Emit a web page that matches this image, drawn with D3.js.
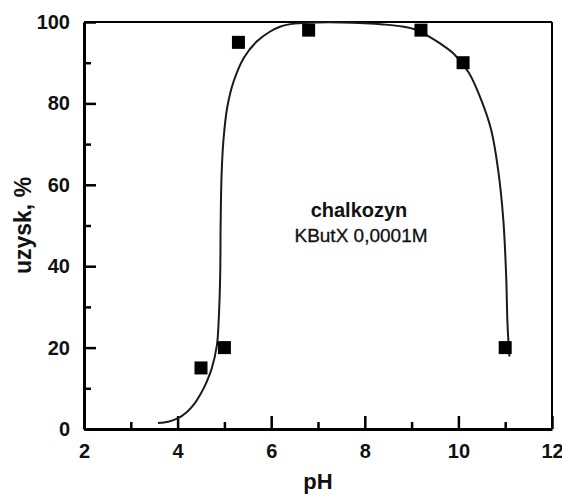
<!DOCTYPE html>
<html>
<head>
<meta charset="utf-8">
<script src="https://cdn.jsdelivr.net/npm/d3@7"></script>
<style>
    html, body { margin: 0; padding: 0; background: #fff; }
    svg text { font-family: "Liberation Sans", Arial, sans-serif; fill: #111; }
    .axis text { font-size: 20px; font-weight: bold; }
    .axis .domain { stroke: #000; stroke-width: 3; }
    .axis line { stroke: #000; stroke-width: 2.5; }
</style>
</head>
<body>
<div id="chart"></div>
<script>
// measured points
const phValues = [4.5, 5.0, 5.3, 6.8, 9.2, 10.1, 11.0];
const yieldValues = [15, 20, 95, 98, 98, 90, 20];

// fitted curve
const curvePh = [3.58, 3.8, 4.0, 4.2, 4.34, 4.5, 4.59, 4.73, 4.84, 4.88, 4.91, 4.92, 4.94, 4.98,
    5.06, 5.2, 5.42, 5.69, 5.97, 6.2, 6.5, 7.0, 7.5, 8.0, 8.4, 8.8, 9.1, 9.32, 9.6, 9.89,
    10.22, 10.5, 10.7, 10.85, 10.96, 11.02, 11.05, 11.09];
const curveYield = [1.5, 1.8, 2.6, 4.2, 5.9, 8.8, 10.8, 14.9, 20.6, 27.2, 37.8, 50.6, 62.5, 71.0,
    79.0, 85.5, 91.3, 95.2, 97.6, 98.9, 99.6, 99.9, 99.9, 99.7, 99.4, 98.9, 98.1, 96.8, 94.8, 92.3,
    87.6, 80.5, 73.5, 63.6, 51.4, 37.8, 25.6, 17.8];

const xTicks = [2, 4, 6, 8, 10, 12];
const xMinorTicks = [3, 5, 7, 9, 11];
const yTicks = [0, 20, 40, 60, 80, 100];
const yMinorTicks = [10, 30, 50, 70, 90];

const width = 562, height = 495;
const plot = { left: 84, right: 552, top: 22, bottom: 429 };

const svg = d3.select('#chart')
    .append('svg')
    .attr('width', width)
    .attr('height', height);

const x = d3.scaleLinear().domain([2, 12]).range([plot.left, plot.right]);
const y = d3.scaleLinear().domain([0, 100]).range([plot.bottom, plot.top]);

// top and right frame lines
svg.append('line')
    .attr('x1', plot.left).attr('x2', plot.right)
    .attr('y1', plot.top).attr('y2', plot.top)
    .attr('stroke', '#000').attr('stroke-width', 2);
svg.append('line')
    .attr('x1', plot.right).attr('x2', plot.right)
    .attr('y1', plot.top).attr('y2', plot.bottom)
    .attr('stroke', '#000').attr('stroke-width', 2);

// minor ticks first, majors on top
svg.append('g')
    .attr('class', 'axis')
    .attr('transform', `translate(0,${plot.bottom})`)
    .call(d3.axisBottom(x).tickValues(xMinorTicks).tickSize(-7).tickSizeOuter(0).tickFormat(''))
    .select('.domain').remove();
svg.append('g')
    .attr('class', 'axis')
    .attr('transform', `translate(${plot.left},0)`)
    .call(d3.axisLeft(y).tickValues(yMinorTicks).tickSize(-7).tickSizeOuter(0).tickFormat(''))
    .select('.domain').remove();

svg.append('g')
    .attr('class', 'axis')
    .attr('transform', `translate(0,${plot.bottom})`)
    .call(d3.axisBottom(x).tickValues(xTicks).tickSize(-13).tickSizeOuter(0).tickPadding(15));

svg.append('g')
    .attr('class', 'axis')
    .attr('transform', `translate(${plot.left},0)`)
    .call(d3.axisLeft(y).tickValues(yTicks).tickSize(-12).tickSizeOuter(0).tickPadding(14));

// curve
const line = d3.line()
    .x(d => x(d[0]))
    .y(d => y(d[1]))
    .curve(d3.curveCatmullRom.alpha(0.5));

svg.append('path')
    .datum(d3.zip(curvePh, curveYield))
    .attr('d', line)
    .attr('fill', 'none')
    .attr('stroke', '#1a1a1a')
    .attr('stroke-width', 2);

// squares
const sq = 13;
svg.append('g')
    .selectAll('rect')
    .data(d3.zip(phValues, yieldValues))
    .enter()
    .append('rect')
    .attr('x', d => x(d[0]) - sq / 2)
    .attr('y', d => y(d[1]) - sq / 2)
    .attr('width', sq)
    .attr('height', sq)
    .attr('fill', '#000');

// axis titles
svg.append('text')
    .attr('x', x(7))
    .attr('y', 489)
    .attr('text-anchor', 'middle')
    .style('font-size', '22px')
    .style('font-weight', 'bold')
    .text('pH');

svg.append('text')
    .attr('transform', `translate(31,${y(50)}) rotate(-90)`)
    .attr('text-anchor', 'middle')
    .style('font-size', '23px')
    .style('font-weight', 'bold')
    .text('uzysk, %');

// annotation
svg.append('text')
    .attr('x', 359)
    .attr('y', 217)
    .attr('text-anchor', 'middle')
    .style('font-size', '20px')
    .style('font-weight', 'bold')
    .text('chalkozyn');

svg.append('text')
    .attr('x', 361)
    .attr('y', 242)
    .attr('text-anchor', 'middle')
    .style('font-size', '19px')
    .style('stroke', '#111')
    .style('stroke-width', 0.3)
    .text('KButX 0,0001M');
</script>
</body>
</html>
